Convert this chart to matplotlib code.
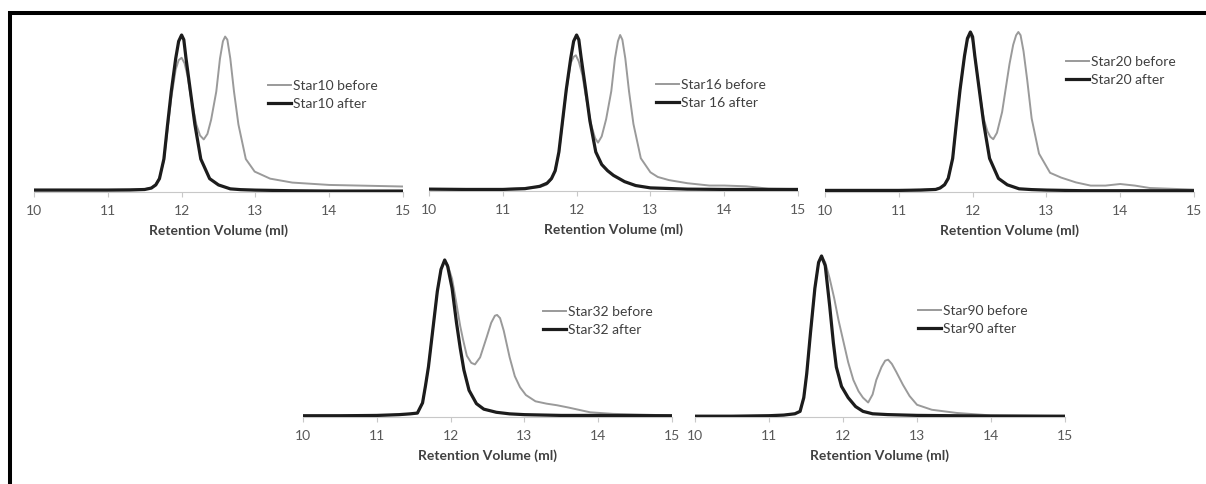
import matplotlib
matplotlib.use("Agg")
import matplotlib.pyplot as plt
from matplotlib.lines import Line2D

plt.rcParams['font.family'] = ['Lato', 'DejaVu Sans']

# ---------------- data ----------------
ticks = [10, 11, 12, 13, 14, 15]
tick_labels = ["10", "11", "12", "13", "14", "15"]
xlabel = "Retention Volume (ml)"

# Star10
s10_before_label = "Star10 before"
s10_after_label = "Star10 after"
s10_before_x = [10.0, 11.0, 11.5, 11.59, 11.65, 11.7, 11.76, 11.81, 11.86, 11.92, 11.96, 12.0, 12.04, 12.08, 12.12, 12.2, 12.25, 12.3, 12.35, 12.4, 12.47, 12.52, 12.56, 12.59, 12.62, 12.66, 12.71, 12.77, 12.87, 12.99, 13.2, 13.5, 14.0, 14.5, 15.0]
s10_before_y = [0.015, 0.015, 0.018, 0.028, 0.05, 0.09, 0.2, 0.4, 0.6, 0.78, 0.84, 0.855, 0.82, 0.74, 0.62, 0.43, 0.36, 0.335, 0.37, 0.46, 0.64, 0.85, 0.96, 0.99, 0.97, 0.85, 0.64, 0.43, 0.21, 0.13, 0.085, 0.06, 0.045, 0.04, 0.035]
s10_after_x = [10.0, 10.5, 11.0, 11.3, 11.5, 11.59, 11.65, 11.7, 11.76, 11.81, 11.86, 11.92, 11.96, 12.0, 12.03, 12.06, 12.12, 12.18, 12.26, 12.38, 12.5, 12.66, 12.8, 13.0, 13.5, 14.0, 15.0]
s10_after_y = [0.012, 0.012, 0.012, 0.013, 0.016, 0.025, 0.045, 0.085, 0.21, 0.43, 0.64, 0.85, 0.96, 1.0, 0.97, 0.85, 0.64, 0.43, 0.21, 0.085, 0.045, 0.02, 0.015, 0.012, 0.008, 0.006, 0.006]

# Star16
s16_before_label = "Star16 before"
s16_after_label = "Star 16 after"
s16_before_x = [10.0, 11.0, 11.5, 11.59, 11.65, 11.7, 11.76, 11.81, 11.86, 11.92, 11.96, 11.99, 12.03, 12.08, 12.12, 12.2, 12.25, 12.29, 12.34, 12.4, 12.47, 12.52, 12.56, 12.59, 12.62, 12.66, 12.71, 12.77, 12.87, 13.0, 13.1, 13.25, 13.5, 13.8, 14.0, 14.3, 14.6, 15.0]
s16_before_y = [0.012, 0.012, 0.025, 0.04, 0.07, 0.12, 0.24, 0.44, 0.64, 0.82, 0.86, 0.87, 0.83, 0.74, 0.62, 0.42, 0.34, 0.31, 0.35, 0.46, 0.64, 0.85, 0.96, 1.0, 0.97, 0.85, 0.64, 0.43, 0.21, 0.12, 0.09, 0.07, 0.05, 0.035, 0.035, 0.03, 0.015, 0.012]
s16_after_x = [10.0, 10.5, 11.0, 11.3, 11.5, 11.6, 11.66, 11.71, 11.76, 11.81, 11.86, 11.92, 11.96, 12.0, 12.03, 12.06, 12.12, 12.18, 12.26, 12.34, 12.42, 12.5, 12.65, 12.8, 13.0, 13.5, 14.0, 15.0]
s16_after_y = [0.012, 0.01, 0.01, 0.015, 0.03, 0.05, 0.08, 0.13, 0.25, 0.45, 0.65, 0.85, 0.96, 1.0, 0.97, 0.86, 0.66, 0.45, 0.25, 0.17, 0.13, 0.1, 0.06, 0.035, 0.02, 0.012, 0.01, 0.01]

# Star20
s20_before_label = "Star20 before"
s20_after_label = "Star20 after"
s20_before_x = [10.0, 11.0, 11.5, 11.56, 11.62, 11.67, 11.73, 11.78, 11.83, 11.89, 11.93, 11.97, 12.0, 12.03, 12.09, 12.15, 12.2, 12.24, 12.28, 12.33, 12.4, 12.5, 12.55, 12.59, 12.62, 12.65, 12.69, 12.74, 12.8, 12.9, 13.05, 13.2, 13.4, 13.6, 13.8, 14.0, 14.2, 14.4, 15.0]
s20_before_y = [0.01, 0.01, 0.018, 0.028, 0.05, 0.09, 0.21, 0.43, 0.64, 0.85, 0.95, 0.98, 0.95, 0.85, 0.64, 0.46, 0.38, 0.345, 0.33, 0.37, 0.5, 0.8, 0.92, 0.98, 1.0, 0.98, 0.88, 0.7, 0.46, 0.24, 0.12, 0.09, 0.06, 0.04, 0.04, 0.05, 0.04, 0.025, 0.015]
s20_after_x = [10.0, 10.5, 11.0, 11.3, 11.5, 11.56, 11.62, 11.67, 11.73, 11.78, 11.83, 11.89, 11.93, 11.97, 12.0, 12.03, 12.09, 12.15, 12.23, 12.35, 12.47, 12.63, 12.8, 13.0, 13.5, 14.0, 15.0]
s20_after_y = [0.01, 0.01, 0.01, 0.012, 0.016, 0.025, 0.045, 0.085, 0.21, 0.43, 0.64, 0.85, 0.96, 1.0, 0.97, 0.85, 0.64, 0.43, 0.21, 0.085, 0.045, 0.02, 0.015, 0.012, 0.008, 0.008, 0.008]

# Star32
s32_before_label = "Star32 before"
s32_after_label = "Star32 after"
s32_before_x = [10.0, 11.0, 11.3, 11.45, 11.55, 11.62, 11.66, 11.7, 11.76, 11.82, 11.87, 11.92, 11.96, 12.02, 12.08, 12.13, 12.17, 12.22, 12.28, 12.33, 12.4, 12.49, 12.55, 12.6, 12.63, 12.67, 12.72, 12.8, 12.87, 12.94, 13.02, 13.15, 13.3, 13.44, 13.6, 13.89, 14.2, 15.0]
s32_before_y = [0.008, 0.01, 0.015, 0.02, 0.025, 0.09, 0.2, 0.32, 0.56, 0.8, 0.94, 1.0, 0.97, 0.88, 0.72, 0.58, 0.49, 0.39, 0.345, 0.335, 0.38, 0.51, 0.6, 0.645, 0.65, 0.63, 0.55, 0.38, 0.26, 0.19, 0.14, 0.1, 0.085, 0.075, 0.06, 0.03, 0.02, 0.01]
s32_after_x = [10.0, 10.5, 11.0, 11.3, 11.45, 11.55, 11.62, 11.66, 11.7, 11.76, 11.82, 11.87, 11.92, 11.96, 12.02, 12.08, 12.13, 12.18, 12.25, 12.35, 12.45, 12.62, 12.8, 13.0, 13.5, 14.0, 15.0]
s32_after_y = [0.008, 0.008, 0.01, 0.015, 0.02, 0.025, 0.09, 0.2, 0.32, 0.56, 0.8, 0.94, 1.0, 0.96, 0.82, 0.6, 0.44, 0.3, 0.17, 0.085, 0.05, 0.03, 0.02, 0.015, 0.01, 0.01, 0.008]

# Star90
s90_before_label = "Star90 before"
s90_after_label = "Star90 after"
s90_before_x = [10.0, 10.5, 11.0, 11.2, 11.35, 11.42, 11.47, 11.51, 11.56, 11.62, 11.67, 11.71, 11.76, 11.82, 11.88, 11.94, 12.0, 12.07, 12.14, 12.21, 12.27, 12.34, 12.4, 12.45, 12.52, 12.57, 12.61, 12.66, 12.72, 12.81, 12.9, 13.0, 13.2, 13.54, 14.0, 15.0]
s90_before_y = [0.005, 0.005, 0.008, 0.012, 0.02, 0.035, 0.12, 0.27, 0.52, 0.8, 0.96, 1.0, 0.96, 0.86, 0.74, 0.6, 0.48, 0.34, 0.23, 0.16, 0.12, 0.09, 0.14, 0.23, 0.31, 0.35, 0.356, 0.33, 0.28, 0.2, 0.13, 0.076, 0.045, 0.025, 0.01, 0.005]
s90_after_x = [10.0, 10.5, 11.0, 11.2, 11.35, 11.42, 11.47, 11.51, 11.56, 11.62, 11.67, 11.71, 11.76, 11.82, 11.87, 11.91, 11.98, 12.07, 12.17, 12.27, 12.4, 12.6, 13.0, 13.5, 14.0, 15.0]
s90_after_y = [0.005, 0.005, 0.008, 0.012, 0.02, 0.035, 0.12, 0.27, 0.52, 0.8, 0.96, 1.0, 0.94, 0.69, 0.46, 0.31, 0.19, 0.12, 0.065, 0.035, 0.02, 0.015, 0.01, 0.008, 0.006, 0.005]

# ---------------- layout ----------------
W, H = 1206, 484
fig = plt.figure(figsize=(W / 100, H / 100), dpi=100)

GRAY = "#9a9a9a"
BLACK = "#1c1c1c"
YTOP = 1.1

panels = [
    # (before_x, before_y, after_x, after_y, labels, left_px, right_px, axis_y_px, unit_px, legend anchor)
    (s10_before_x, s10_before_y, s10_after_x, s10_after_y, (s10_before_label, s10_after_label), 34, 403, 192, 157, (0.634, 0.648)),
    (s16_before_x, s16_before_y, s16_after_x, s16_after_y, (s16_before_label, s16_after_label), 429, 798, 191, 156, (0.615, 0.653)),
    (s20_before_x, s20_before_y, s20_after_x, s20_after_y, (s20_before_label, s20_after_label), 825, 1194, 192, 160, (0.653, 0.773)),
    (s32_before_x, s32_before_y, s32_after_x, s32_after_y, (s32_before_label, s32_after_label), 303, 672, 417, 157, (0.650, 0.643)),
    (s90_before_x, s90_before_y, s90_after_x, s90_after_y, (s90_before_label, s90_after_label), 695, 1065, 417, 161, (0.602, 0.632)),
]

for bx, by, ax_, ay, labels, lpx, rpx, ypx, unit, anchor in panels:
    hpx = unit * YTOP
    ax = fig.add_axes([lpx / W, (H - ypx) / H, (rpx - lpx) / W, hpx / H])
    ax.plot(bx, by, color=GRAY, lw=1.4, label=labels[0], zorder=3)
    ax.plot(ax_, ay, color=BLACK, lw=2.3, label=labels[1], zorder=4)
    ax.set_xlim(10, 15)
    ax.set_ylim(0, YTOP)
    ax.set_xticks(ticks)
    ax.set_xticklabels(tick_labels)
    ax.set_yticks([])
    for s in ("left", "right", "top"):
        ax.spines[s].set_visible(False)
    ax.spines["bottom"].set_color("#c8c8c8")
    ax.spines["bottom"].set_linewidth(0.8)
    ax.tick_params(axis="x", direction="out", length=3.5, width=0.8,
                   color="#c8c8c8", labelcolor="#595959", labelsize=10, pad=6)
    ax.set_xlabel(xlabel, fontsize=10, fontweight="bold", color="#404040", labelpad=5)
    ax.patch.set_alpha(0)
    leg = ax.legend(loc="upper left", bbox_to_anchor=anchor, frameon=False,
                    fontsize=10, handlelength=1.65, handletextpad=0.15,
                    labelspacing=0.45, borderpad=0, borderaxespad=0)
    for t in leg.get_texts():
        t.set_color("#404040")

# outer border (left and top edges visible)
fig.add_artist(Line2D([10 / W, 10 / W], [0, (H - 11) / H], color="black", lw=2.9,
                      transform=fig.transFigure, solid_capstyle="butt"))
fig.add_artist(Line2D([8 / W, 1], [(H - 13) / H, (H - 13) / H], color="black", lw=2.9,
                      transform=fig.transFigure, solid_capstyle="butt"))

fig.savefig("out.png", dpi=100)
